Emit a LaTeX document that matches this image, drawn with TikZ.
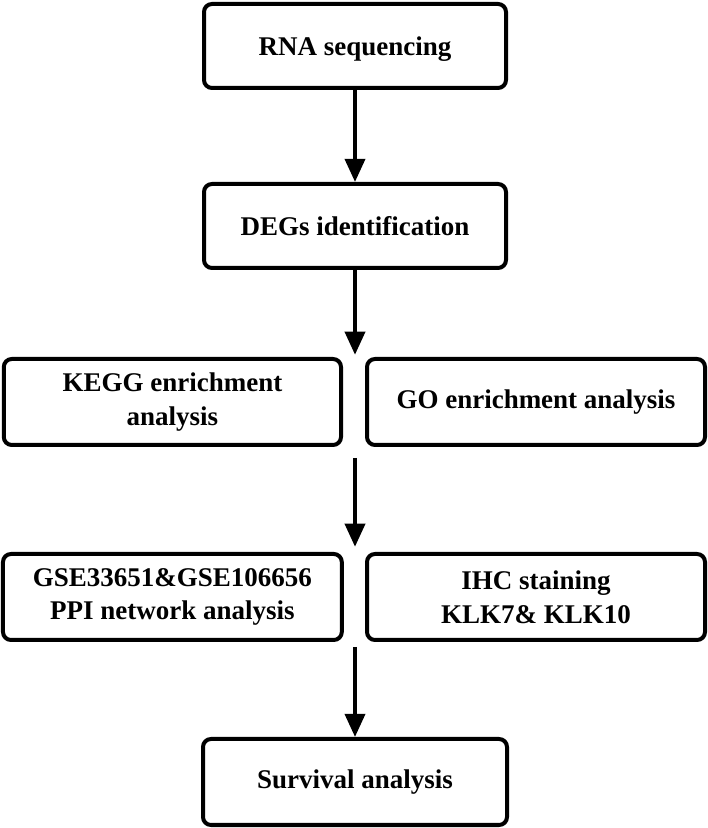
\documentclass[tikz,border=0pt]{standalone}
\usepackage{fontspec}
\setmainfont{Liberation Serif}
\usetikzlibrary{arrows.meta,positioning}

\begin{document}
\begin{tikzpicture}[
    box/.style={draw,line width=.1cm,rounded corners=.2cm,align=center,
      font=\fontsize{19.2}{24}\selectfont\bfseries},
    flow/.style={line width=.1cm,-{Triangle[length=.58cm,width=.5cm]}}]
 %the page
  \useasboundingbox (0,0) rectangle (17.7,20.7);
 %draw boxes
  %single boxes
    \node[box,minimum width=7.55cm,minimum height=2.1cm,text height=.62cm] (rna) at (8.875,19.55) {RNA sequencing};
    \node[box,minimum width=7.55cm,minimum height=2.1cm] (deg) at (8.875,15.05) {DEGs identification};
    \node[box,minimum width=7.6cm,minimum height=2.15cm] (surv) at (8.875,1.15) {Survival analysis};
  %enrichment row
    \node[box,minimum width=8.43cm,minimum height=2.15cm] (kegg) at (4.31,10.65) {KEGG enrichment\\analysis};
    \node[box,minimum width=8.45cm,minimum height=2.15cm] (go) at (13.4,10.65) {GO enrichment analysis};
  %network row
    \node[box,minimum width=8.47cm,minimum height=2.15cm] (gse) at (4.31,5.775) {GSE33651\&GSE106656\\PPI network analysis};
    \node[box,minimum width=8.45cm,minimum height=2.15cm] (ihc) at (13.4,5.775) {IHC staining\\KLK7\& KLK10};
 %free ends in the gaps
    \coordinate (t1) at (8.875,11.83);
    \coordinate (s2) at (8.875,9.25);
    \coordinate (t2) at (8.875,7.03);
    \coordinate (s3) at (8.875,4.53);
 %draw arrows
    \draw[flow] (rna) -- (deg);
    \draw[flow] (deg) -- (t1);
    \draw[flow] (s2) -- (t2);
    \draw[flow] (s3) -- (surv);
\end{tikzpicture}
\end{document}
